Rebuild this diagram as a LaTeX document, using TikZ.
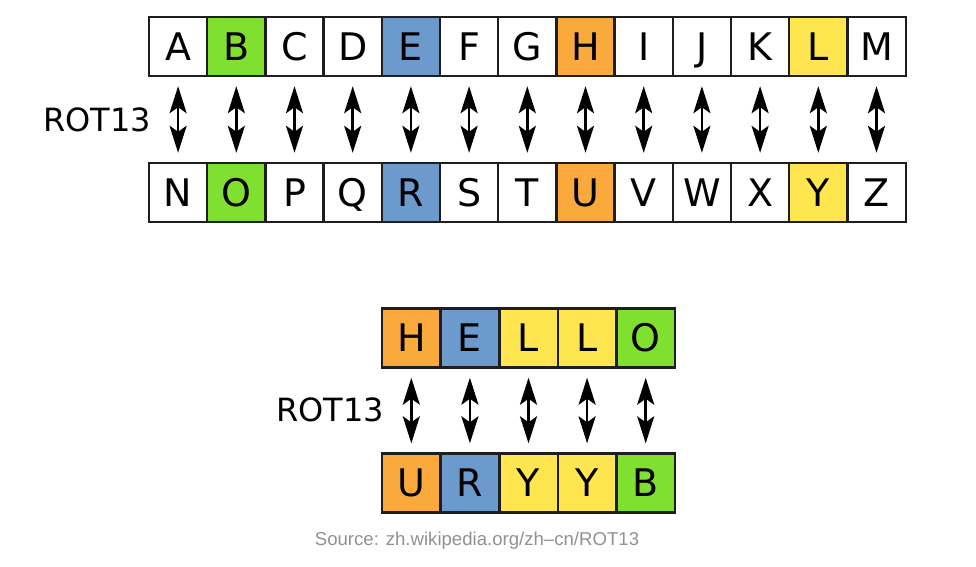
\documentclass[tikz,border=0pt]{standalone}
\usepackage{fontspec}
\setmainfont{DejaVu Sans}
\newfontfamily\srcfont{Liberation Sans}
\usetikzlibrary{arrows.meta}
\definecolor{cgreen}{RGB}{128,224,48}
\definecolor{cblue}{RGB}{108,154,205}
\definecolor{corange}{RGB}{250,170,60}
\definecolor{cyellow}{RGB}{255,230,80}
\definecolor{cborder}{RGB}{30,30,30}
\definecolor{csrc}{RGB}{145,145,145}
\tikzset{
  cell/.style={draw=cborder, line width=2.4pt, fill=white, minimum width=58.4pt, minimum height=59pt, inner sep=0pt,
    font=\fontsize{38}{38}\selectfont, text height=27.5pt, text depth=0pt},
  rothead/.style={Stealth[length=27pt,width=17pt,inset=6pt]},
  rotarrow/.style={{Stealth[length=27pt,width=17pt,inset=6pt]}-{Stealth[length=27pt,width=17pt,inset=6pt]}, line width=2.6pt, shorten <=9pt, shorten >=9pt},
  lbl/.style={font=\fontsize{32}{32}\selectfont, inner sep=0pt},
}
\begin{document}
\begin{tikzpicture}[x=1pt,y=-1pt]
\useasboundingbox (0,0) rectangle (976,566);
% top alphabet
\foreach \l/\c [count=\i] in {A/white,B/cgreen,C/white,D/white,E/cblue,F/white,G/white,H/corange,I/white,J/white,K/white,L/cyellow,M/white}{
  \node[cell, fill=\c] (t\i) at ({149+58.2*(\i-0.5)},46.5) {\l};
}
\foreach \l/\c [count=\i] in {N/white,O/cgreen,P/white,Q/white,R/cblue,S/white,T/white,U/corange,V/white,W/white,X/white,Y/cyellow,Z/white}{
  \node[cell, fill=\c] (b\i) at ({149+58.2*(\i-0.5)},192.5) {\l};
}
\foreach \i in {1,...,13}{
  \draw[rotarrow] (t\i.south) -- (b\i.north);
}
\node[lbl] (rot1) at (97,120) {ROT13};
% HELLO
\foreach \l/\c [count=\i] in {H/corange,E/cblue,L/cyellow,L/cyellow,O/cgreen}{
  \node[cell, fill=\c] (h\i) at ({382+58.6*(\i-0.5)},338) {\l};
}
\foreach \l/\c [count=\i] in {U/corange,R/cblue,Y/cyellow,Y/cyellow,B/cgreen}{
  \node[cell, fill=\c] (u\i) at ({382+58.6*(\i-0.5)},483) {\l};
}
\foreach \i in {1,...,5}{
  \draw[rotarrow] (h\i.south) -- (u\i.north);
}
\node[lbl] (rot2) at (330,410) {ROT13};
\node[font=\srcfont\fontsize{18.6}{18.6}\selectfont, text=csrc, inner sep=0pt] (src) at (477,541) {Source: zh.wikipedia.org/zh–cn/ROT13};
\end{tikzpicture}
\end{document}
